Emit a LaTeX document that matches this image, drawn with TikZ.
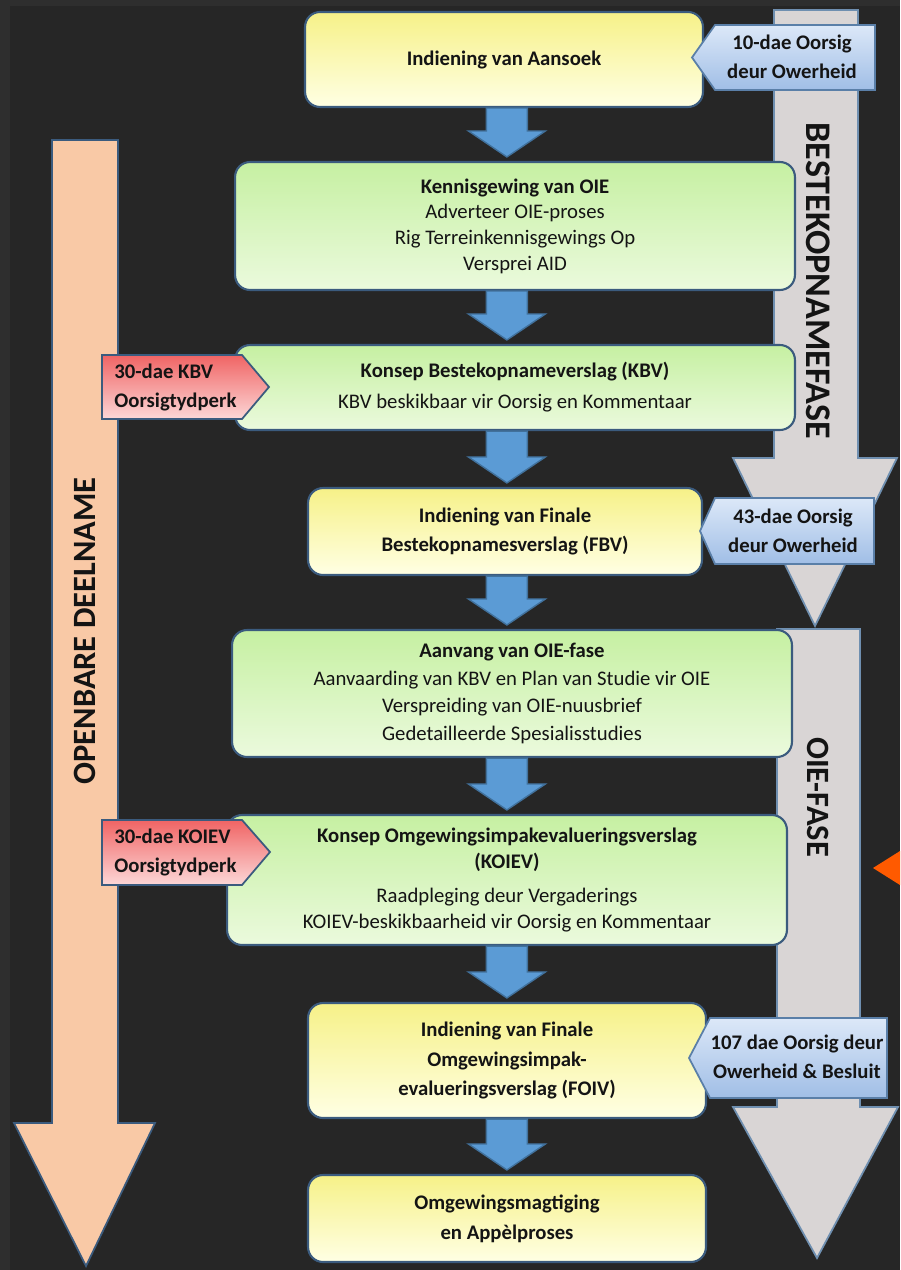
\documentclass[tikz,border=0pt]{standalone}
\usepackage{fontspec}
\setmainfont{Carlito}
\usetikzlibrary{calc}

\definecolor{bgframe}{HTML}{2E2E2E}
\definecolor{bgdark}{HTML}{262626}
\definecolor{boxline}{HTML}{3B5B7E}
\definecolor{yelltop}{HTML}{F6F188}
\definecolor{yellbot}{HTML}{FFFFE4}
\definecolor{greentop}{HTML}{C6F0A2}
\definecolor{greenbot}{HTML}{EBFADD}
\definecolor{arrblue}{HTML}{5B9BD5}
\definecolor{arrline}{HTML}{41719C}
\definecolor{phasegrey}{HTML}{D9D5D5}
\definecolor{phaseline}{HTML}{6F8FB0}
\definecolor{salmon}{HTML}{F9C9A6}
\definecolor{calltop}{HTML}{DCE8F8}
\definecolor{callbot}{HTML}{A0BEE6}
\definecolor{calledge}{HTML}{5A7FA8}
\definecolor{redtop}{HTML}{F06464}
\definecolor{redbot}{HTML}{FCD7D7}
\definecolor{marker}{HTML}{FF5A00}
\definecolor{inkdark}{HTML}{141414}

% blue block arrow from one box down to the next
\newcommand{\flowarrow}[2]{%
  \draw[flowarr] let \p1=(#1.south), \p2=(#2.north) in
    (9.73cm,\y1) -- (10.55cm,\y1) -- (10.55cm,\y2+0.6cm) -- (10.91cm,\y2+0.6cm)
    -- (10.14cm,\y2+0.08cm) -- (9.37cm,\y2+0.6cm) -- (9.73cm,\y2+0.6cm) -- cycle;}

\begin{document}
\begin{tikzpicture}[x=0.02cm, y=-0.02cm,
    stepbox/.style={draw=boxline, line width=1.2pt, rounded corners=0.3cm, align=center,
                    text=inkdark, inner sep=2pt, font=\fontsize{11.8}{14.6}\selectfont},
    yellowbox/.style={stepbox, top color=yelltop, bottom color=yellbot,
                      font=\fontsize{11.8}{17}\selectfont\bfseries},
    greenbox/.style={stepbox, top color=greentop, bottom color=greenbot},
    flowarr/.style={draw=arrline, fill=arrblue, line width=0.8pt},
    phasearr/.style={draw=phaseline, fill=phasegrey, line width=1pt},
    phasetext/.style={text=inkdark, font=\fontsize{18.5}{20}\selectfont\bfseries, inner sep=0pt},
    calltext/.style={text=inkdark, align=center, inner sep=0pt,
                     font=\fontsize{11.8}{16.5}\selectfont\bfseries},
    bluecall/.style={draw=calledge, line width=1pt, top color=calltop, bottom color=callbot},
    redcall/.style={draw=boxline, line width=1pt, top color=redtop, bottom color=redbot}]

  \useasboundingbox (0,0) rectangle (900,1270);
  \fill[bgframe] (0,0) rectangle (900,1270);
  \fill[bgdark] (10,6) rectangle (900,1270);

  % public participation arrow
  \draw[boxline, fill=salmon, line width=1pt] (52,140) -- (118,140) -- (118,1123) -- (155,1123)
    -- (86,1266) -- (14,1123) -- (52,1123) -- cycle;
  \node[phasetext, rotate=90] (deelname) at (85,631) {OPENBARE DEELNAME};

  % phase arrows
  \draw[phasearr] (774,10) -- (858,10) -- (858,458) -- (897,458) -- (815,626) -- (733,458)
    -- (774,458) -- cycle;
  \draw[phasearr] (777,629) -- (860,629) -- (860,1107) -- (898,1107) -- (817,1258) -- (733,1107)
    -- (777,1107) -- cycle;
  \node[phasetext, rotate=-90, font=\fontsize{20.5}{22}\selectfont\bfseries] (fase1) at (818,281)
    {BESTEKOPNAMEFASE};
  \node[phasetext, rotate=-90] (fase2) at (818,797) {OIE-FASE};

  % process steps
  \node[yellowbox, minimum width=7.96cm, minimum height=1.9cm] (aansoek) at (504,59.5)
    {Indiening van Aansoek};
  \node[greenbox, minimum width=11.2cm, minimum height=2.56cm] (kennis) at (515,226)
    {\textbf{Kennisgewing van OIE}\\Adverteer OIE-proses\\Rig Terreinkennisgewings Op\\Versprei AID};
  \node[greenbox, minimum width=11.2cm, minimum height=1.7cm] (kbv) at (515,387.5)
    {\textbf{Konsep Bestekopnameverslag (KBV)}\\[3pt]KBV beskikbaar vir Oorsig en Kommentaar};
  \node[yellowbox, minimum width=7.88cm, minimum height=1.74cm] (fbv) at (505,531.5)
    {Indiening van Finale\\Bestekopnamesverslag (FBV)};
  \node[greenbox, minimum width=11.2cm, minimum height=2.54cm] (aanvang) at (512,693.5)
    {\textbf{Aanvang van OIE-fase}\\[1pt]Aanvaarding van KBV en Plan van Studie vir OIE\\[1pt]%
     Verspreiding van OIE-nuusbrief\\[1pt]Gedetailleerde Spesialisstudies};
  \node[greenbox, minimum width=11.2cm, minimum height=2.6cm] (koiev) at (507,880)
    {\textbf{Konsep Omgewingsimpakevalueringsverslag}\\\textbf{(KOIEV)}\\[5pt]%
     Raadpleging deur Vergaderings\\KOIEV-beskikbaarheid vir Oorsig en Kommentaar};
  \node[yellowbox, minimum width=7.96cm, minimum height=2.3cm] (foiv) at (507,1060.5)
    {Indiening van Finale\\Omgewingsimpak-\\evalueringsverslag (FOIV)};
  \node[yellowbox, minimum width=7.96cm, minimum height=1.74cm] (magtiging) at (507,1218.5)
    {Omgewingsmagtiging\\en App\`elproses};

  \flowarrow{aansoek}{kennis}
  \flowarrow{kennis}{kbv}
  \flowarrow{kbv}{fbv}
  \flowarrow{fbv}{aanvang}
  \flowarrow{aanvang}{koiev}
  \flowarrow{koiev}{foiv}
  \flowarrow{foiv}{magtiging}

  % review periods
  \path[bluecall] (715,25) -- (875,25) -- (875,90) -- (715,90) -- (692,57.5) -- cycle;
  \node[calltext] (oorsig10) at (792,57) {10-dae Oorsig\\deur Owerheid};
  \path[bluecall] (715,498) -- (874,498) -- (874,564) -- (715,564) -- (700,531) -- cycle;
  \node[calltext] (oorsig43) at (793,531) {43-dae Oorsig\\deur Owerheid};
  \path[bluecall] (710,1018) -- (887,1018) -- (887,1098) -- (710,1098) -- (689,1058) -- cycle;
  \node[calltext] (oorsig107) at (797,1057) {107 dae Oorsig deur\\Owerheid \& Besluit};

  \path[redcall] (102,355) -- (242,355) -- (269,387) -- (242,419) -- (102,419) -- cycle;
  \node[calltext, align=left, anchor=west] (kbvtyd) at (114,387) {30-dae KBV\\Oorsigtydperk};
  \path[redcall] (102,820) -- (242,820) -- (270,852) -- (242,885) -- (102,885) -- cycle;
  \node[calltext, align=left, anchor=west] (koievtyd) at (114,852) {30-dae KOIEV\\Oorsigtydperk};

  \fill[marker] (873,868) -- (900,851) -- (900,885) -- cycle;
\end{tikzpicture}
\end{document}
